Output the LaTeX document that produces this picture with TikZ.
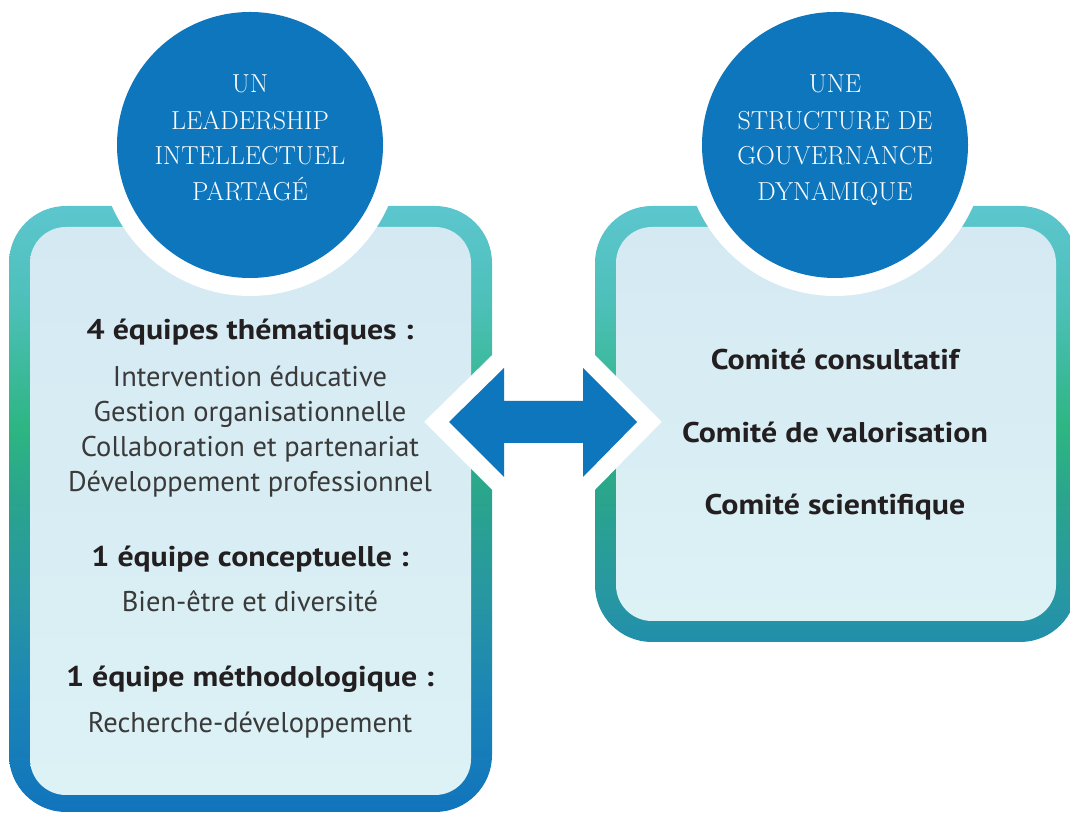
\documentclass[tikz,border=0pt]{standalone}
\usepackage{fontspec}
\newfontfamily\sansf{PT Sans}
\newfontfamily\sansbf{PT Sans Bold}[FakeStretch=1.12]
\definecolor{cA}{HTML}{5CC6CE}
\definecolor{cB}{HTML}{4EC0BA}
\definecolor{cC}{HTML}{2DB582}
\definecolor{cD}{HTML}{2AA48D}
\definecolor{cE}{HTML}{2796A3}
\definecolor{cF}{HTML}{1B84B6}
\definecolor{cG}{HTML}{1174BD}
\definecolor{innertop}{HTML}{D4E9F2}
\definecolor{innerbot}{HTML}{DDF2F5}
\definecolor{cblue}{HTML}{0E76BC}
\definecolor{txtdark}{HTML}{231F20}
\definecolor{txtreg}{HTML}{3A3A3A}
\pgfdeclareverticalshading{bordershade}{100bp}{color(0bp)=(cG); color(25bp)=(cG); color(34.24bp)=(cF); color(42.49bp)=(cE); color(50.74bp)=(cD); color(56.5bp)=(cC); color(67.24bp)=(cB); color(75bp)=(cA); color(100bp)=(cA)}
\tikzset{
  circtext/.style={anchor=base, text=white, font=\rmfamily\fontsize{26}{30}\selectfont\addfontfeature{LetterSpace=5}},
  headtext/.style={anchor=base, text=txtdark, font=\sansbf\fontsize{28.5}{33}\selectfont},
  itemtext/.style={anchor=base, text=txtreg, font=\sansf\fontsize{28.5}{33}\selectfont},
  bluecircle/.style={circle, fill=cblue, minimum size=266pt, inner sep=0pt},
}
\begin{document}
\begin{tikzpicture}[x=1pt,y=1pt]
\useasboundingbox (0,0) rectangle (1070,813);
\clip (0,0) rectangle (1070,813);
% gradient borders
\begin{scope}
  \clip[rounded corners=57pt] (9,1) rectangle (492,607) (595,171) rectangle (1077,607);
  \shade[shading=bordershade] (0,1) rectangle (1070,607);
\end{scope}
% inner panels
\shade[top color=innertop, bottom color=innerbot, rounded corners=36pt] (30,18) rectangle (471,586);
\shade[top color=innertop, bottom color=innerbot, rounded corners=36pt] (616,192) rectangle (1056,586);
% double arrow
\draw[white, line width=35pt, line join=miter] (449,391) -- (504,445) -- (504,412) -- (583,412) -- (583,445) -- (637,391) -- (583,336) -- (583,370) -- (504,370) -- (504,336) -- cycle;
\fill[cblue] (449,391) -- (504,445) -- (504,412) -- (583,412) -- (583,445) -- (637,391) -- (583,336) -- (583,370) -- (504,370) -- (504,336) -- cycle;
% circles
\fill[white] (250,668) circle (151);
\fill[white] (835,668) circle (151);
\node[bluecircle] (lc) at (250,668) {};
\node[bluecircle] (rc) at (835,668) {};
% circle texts
\node[circtext] (l1) at (250,720) {UN};
\node[circtext] (l2) at (250,683) {LEADERSHIP};
\node[circtext] (l3) at (250,648) {INTELLECTUEL};
\node[circtext] (l4) at (250,612) {PARTAGÉ};
\node[circtext] (r1) at (835,720) {UNE};
\node[circtext] (r2) at (835,683) {STRUCTURE DE};
\node[circtext] (r3) at (835,648) {GOUVERNANCE};
\node[circtext] (r4) at (835,612) {DYNAMIQUE};
% left panel texts
\node[headtext] (h1) at (250,473) {4 équipes thématiques :};
\node[itemtext] (i1) at (250,426) {Intervention éducative};
\node[itemtext] (i2) at (250,391) {Gestion organisationnelle};
\node[itemtext] (i3) at (250,356) {Collaboration et partenariat};
\node[itemtext] (i4) at (250,321) {Développement professionnel};
\node[headtext] (h2) at (250,246) {1 équipe conceptuelle :};
\node[itemtext] (i5) at (250,201) {Bien-être et diversité};
\node[headtext] (h3) at (250,126) {1 équipe méthodologique :};
\node[itemtext] (i6) at (250,80) {Recherche-développement};
% right panel texts
\node[headtext] (c1) at (835,443) {Comité consultatif};
\node[headtext] (c2) at (835,370) {Comité de valorisation};
\node[headtext] (c3) at (835,298) {Comité scientifique};
\end{tikzpicture}
\end{document}
